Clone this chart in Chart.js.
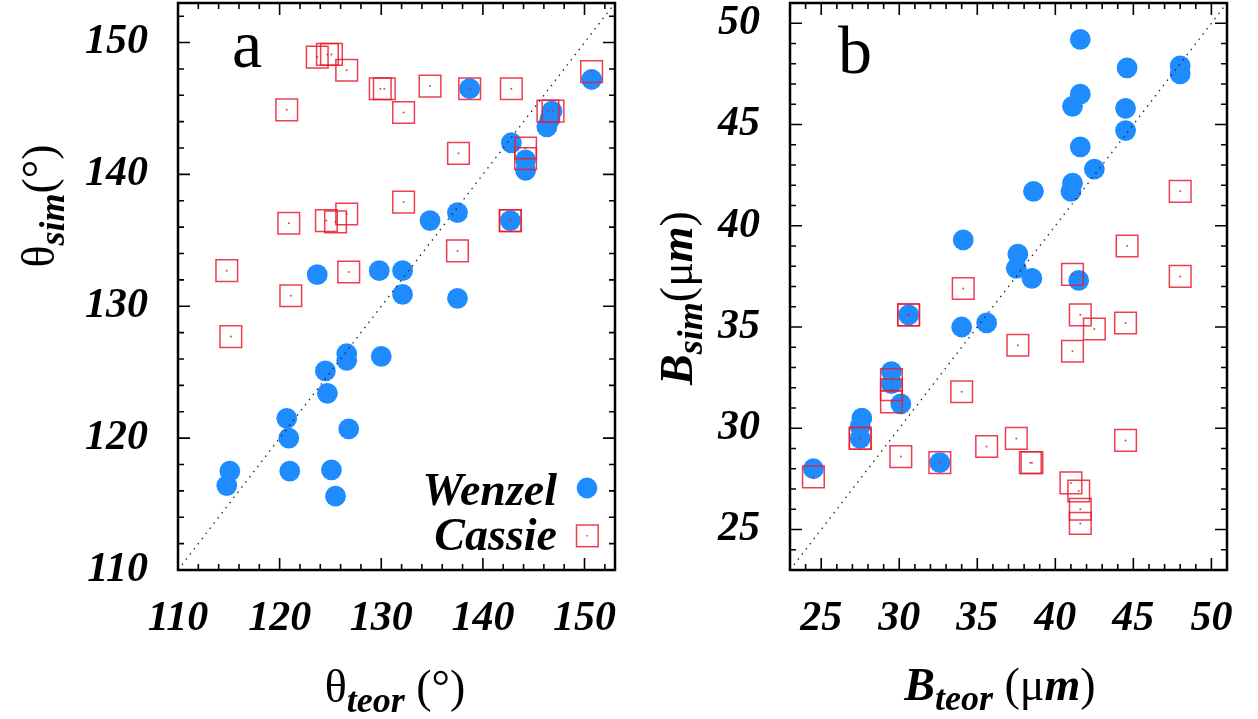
<!DOCTYPE html>
<html>
<head>
<meta charset="utf-8">
<script src="https://cdn.jsdelivr.net/npm/chart.js@4.4.0/dist/chart.umd.min.js"></script>
<style>
  html, body { margin: 0; padding: 0; background: #fff; }
  #wrap { position: relative; width: 1258px; height: 719px; }
  canvas { position: absolute; top: 0; }
</style>
</head>
<body>
<div id="wrap">
  <canvas id="chartA" width="629" height="719" style="left:0"></canvas>
  <canvas id="chartB" width="629" height="719" style="left:629px"></canvas>
</div>
<script>
// ---- панель a: углы контакта ----
const thetaRange = [110, 153];
const thetaTicks = [110, 120, 130, 140, 150];
const wenzelThetaTeor = [138.7, 150.7, 146.8, 146.6, 146.3, 142.8, 144.2, 144.2, 137.5, 134.8, 142.7, 123.7, 129.8, 132.1, 132.1, 137.5, 130.0, 126.6, 126.6, 124.5, 124.7, 120.7, 120.9, 126.8, 115.1, 114.8, 121.0, 125.1, 125.5];
const wenzelThetaSim  = [146.5, 147.2, 144.8, 144.2, 143.6, 142.4, 141.1, 140.3, 137.1, 136.5, 136.5, 132.4, 132.7, 132.7, 130.9, 130.6, 126.2, 126.4, 125.9, 125.1, 123.4, 121.5, 120.0, 120.7, 117.5, 116.4, 117.5, 117.6, 115.6];
const cassieThetaTeor = [123.7, 124.7, 125.1, 126.6, 129.9, 130.3, 134.8, 138.7, 142.8, 150.7, 120.7, 132.2, 146.4, 146.9, 144.2, 144.2, 137.6, 132.2, 126.6, 124.6, 125.5, 120.9, 142.7, 142.7, 137.5, 114.8, 126.8, 121.1, 115.2];
const cassieThetaSim  = [148.9, 149.1, 149.1, 147.9, 146.5, 146.5, 146.7, 146.5, 146.5, 147.8, 144.9, 144.7, 144.8, 144.8, 142.0, 141.2, 141.6, 137.9, 137.0, 136.5, 136.4, 136.3, 136.5, 136.5, 134.2, 132.7, 132.6, 130.8, 127.7];

// ---- панель b: ширина B ----
const bRange = [23, 51];
const bTicks = [25, 30, 35, 40, 45, 50];
const wenzelBTeor = [41.6, 44.6, 48.0, 48.0, 41.6, 41.1, 44.5, 44.5, 41.6, 42.5, 41.1, 41.0, 38.6, 34.1, 37.6, 37.5, 38.5, 41.5, 30.6, 34.0, 35.6, 29.5, 29.5, 30.1, 27.6, 27.5, 27.5, 24.5, 32.6];
const wenzelBSim  = [49.2, 47.8, 47.9, 47.5, 46.5, 45.9, 45.8, 44.7, 43.9, 42.8, 42.1, 41.7, 41.7, 39.3, 38.6, 37.9, 37.4, 37.3, 35.6, 35.0, 35.2, 32.8, 32.2, 31.2, 30.5, 30.1, 29.5, 28.0, 28.3];
const cassieBTeor = [48.0, 44.6, 48.0, 41.1, 34.1, 30.6, 30.6, 41.6, 42.5, 44.5, 37.6, 41.1, 34.0, 29.5, 29.5, 29.5, 27.5, 27.5, 30.1, 32.6, 35.6, 37.5, 38.4, 38.5, 44.5, 24.5, 41.0, 41.5, 41.6, 41.6];
const cassieBSim  = [41.7, 39.0, 37.5, 37.6, 36.9, 35.6, 35.6, 35.6, 34.9, 35.2, 34.1, 33.8, 31.8, 32.4, 31.9, 31.3, 29.5, 29.5, 28.6, 28.3, 29.1, 29.5, 28.3, 28.3, 29.4, 27.6, 27.3, 26.9, 26.0, 25.3];

const BLUE = '#1e8cff';
const RED = 'rgba(232, 28, 48, 0.85)';
const SERIF = "'Liberation Serif', 'Times New Roman', serif";
const tickFont = { family: SERIF, size: 42, style: 'italic', weight: 'bold' };

function pts(xs, ys) {
  return xs.map((x, i) => ({ x: x, y: ys[i] }));
}

// текст из кусков с разными шрифтами (индексы, греческие буквы)
function drawRich(ctx, parts, cx, cy, rot) {
  ctx.save();
  ctx.translate(cx, cy);
  ctx.rotate(rot || 0);
  ctx.textAlign = 'left';
  ctx.textBaseline = 'alphabetic';
  ctx.fillStyle = '#000';
  let w = 0;
  parts.forEach(p => { ctx.font = p.font; p.w = ctx.measureText(p.text).width; w += p.w; });
  let x = -w / 2;
  parts.forEach(p => { ctx.font = p.font; ctx.fillText(p.text, x, p.dy || 0); x += p.w; });
  ctx.restore();
}

// рамка, засечки внутрь, подписи осей, буква панели, легенда
const framePlugin = {
  id: 'frame',
  afterDatasetsDraw(chart, args, opts) {
    const ctx = chart.ctx;
    const a = chart.chartArea;
    const xs = chart.scales.x, ys = chart.scales.y;
    ctx.save();
    ctx.strokeStyle = '#000';
    ctx.lineWidth = 1.6;
    ctx.beginPath();
    for (let v = opts.minorStart; v <= xs.max + 1e-9; v += opts.minor) {
      const px = xs.getPixelForValue(v);
      const len = opts.majors.includes(Math.round(v * 10) / 10) ? 12 : 6;
      ctx.moveTo(px, a.bottom); ctx.lineTo(px, a.bottom - len);
      ctx.moveTo(px, a.top); ctx.lineTo(px, a.top + len);
    }
    for (let v = opts.minorStart; v <= ys.max + 1e-9; v += opts.minor) {
      const py = ys.getPixelForValue(v);
      const len = opts.majors.includes(Math.round(v * 10) / 10) ? 12 : 6;
      ctx.moveTo(a.left, py); ctx.lineTo(a.left + len, py);
      ctx.moveTo(a.right, py); ctx.lineTo(a.right - len, py);
    }
    ctx.stroke();
    ctx.lineWidth = 2.5;
    ctx.strokeRect(a.left, a.top, a.right - a.left, a.bottom - a.top);

    // буква панели
    ctx.fillStyle = '#000';
    ctx.font = '68px ' + SERIF;
    ctx.textAlign = 'left';
    ctx.textBaseline = 'alphabetic';
    ctx.fillText(opts.letter, opts.letterX, opts.letterY);

    drawRich(ctx, opts.xTitle, opts.xTitlePos[0], opts.xTitlePos[1], 0);
    drawRich(ctx, opts.yTitle, opts.yTitlePos[0], opts.yTitlePos[1], -Math.PI / 2);

    if (opts.legend) {
      const lf = 'italic bold 46px ' + SERIF;
      ctx.font = lf;
      ctx.textAlign = 'right';
      ctx.fillText('Wenzel', 557, 505);
      ctx.fillText('Cassie', 557, 550);
      ctx.fillStyle = BLUE;
      ctx.beginPath();
      ctx.arc(587, 488, 10.4, 0, Math.PI * 2);
      ctx.fill();
      ctx.strokeStyle = RED;
      ctx.lineWidth = 1.5;
      ctx.strokeRect(576.5, 525, 21.7, 21.7);
      ctx.fillStyle = RED;
      ctx.fillRect(586.5, 535, 1.5, 1.5);
    }
    ctx.restore();
  }
};

function makeChart(id, range, ticks, wx, wy, cx, cy, yAxisWidth, rightPad, frameOpts) {
  const diag = [{ x: range[0], y: range[0] }, { x: range[1], y: range[1] }];
  const axis = (isX) => ({
    type: 'linear',
    min: range[0],
    max: range[1],
    afterBuildTicks: s => { s.ticks = ticks.map(v => ({ value: v })); },
    ticks: { font: tickFont, color: '#000', padding: isX ? 24 : 30, maxRotation: 0, autoSkip: false },
    grid: { display: false, drawTicks: false },
    border: { display: false },
    afterFit: s => {
      if (isX) { s.height = 149; s.paddingLeft = 0; s.paddingRight = 0; }
      else { s.width = yAxisWidth; s.paddingTop = 0; s.paddingBottom = 0; }
    }
  });
  return new Chart(document.getElementById(id), {
    type: 'scatter',
    data: {
      datasets: [
        { type: 'line', data: diag, borderColor: '#222', borderWidth: 1.3, borderDash: [1.5, 5], pointRadius: 0, fill: false, order: 0 },
        { data: pts(cx, cy), pointStyle: 'circle', pointRadius: 1, backgroundColor: RED, borderWidth: 0, order: 1 },
        { data: pts(cx, cy), pointStyle: 'rect', pointRadius: 15.3, backgroundColor: 'rgba(0,0,0,0)', borderColor: RED, borderWidth: 1.5, order: 2 },
        { data: pts(wx, wy), pointStyle: 'circle', pointRadius: 10.4, backgroundColor: BLUE, borderWidth: 0, order: 3 }
      ]
    },
    options: {
      responsive: false,
      animation: false,
      events: [],
      layout: { autoPadding: false, padding: { left: 0, right: rightPad, top: 3, bottom: 0 } },
      plugins: { legend: { display: false }, tooltip: { enabled: false }, frame: frameOpts },
      scales: { x: axis(true), y: axis(false) }
    },
    plugins: [framePlugin]
  });
}

const upright = '46px ' + SERIF;
const bi = 'italic bold 46px ' + SERIF;
const sub = 'italic bold 36px ' + SERIF;

makeChart('chartA', thetaRange, thetaTicks, wenzelThetaTeor, wenzelThetaSim, cassieThetaTeor, cassieThetaSim, 178, 14, {
  minor: 2, minorStart: 110, majors: thetaTicks,
  letter: 'a', letterX: 232, letterY: 67, legend: true,
  xTitle: [{ text: 'θ', font: upright }, { text: 'teor', font: sub, dy: 10 }, { text: ' (°)', font: upright }],
  xTitlePos: [395, 702],
  yTitle: [{ text: 'θ', font: upright }, { text: 'sim', font: sub, dy: 10 }, { text: '(°)', font: upright }],
  yTitlePos: [54, 206]
});

makeChart('chartB', bRange, bTicks, wenzelBTeor, wenzelBSim, cassieBTeor, cassieBSim, 161, 31, {
  minor: 1, minorStart: 23, majors: bTicks,
  letter: 'b', letterX: 209, letterY: 73, legend: false,
  xTitle: [{ text: 'B', font: bi }, { text: 'teor', font: sub, dy: 10 }, { text: ' (', font: upright }, { text: 'μ', font: upright }, { text: 'm', font: bi }, { text: ')', font: upright }],
  xTitlePos: [371, 700],
  yTitle: [{ text: 'B', font: bi }, { text: 'sim', font: sub, dy: 10 }, { text: '(', font: upright }, { text: 'μ', font: upright }, { text: 'm', font: bi }, { text: ')', font: upright }],
  yTitlePos: [63, 298]
});
</script>
</body>
</html>
